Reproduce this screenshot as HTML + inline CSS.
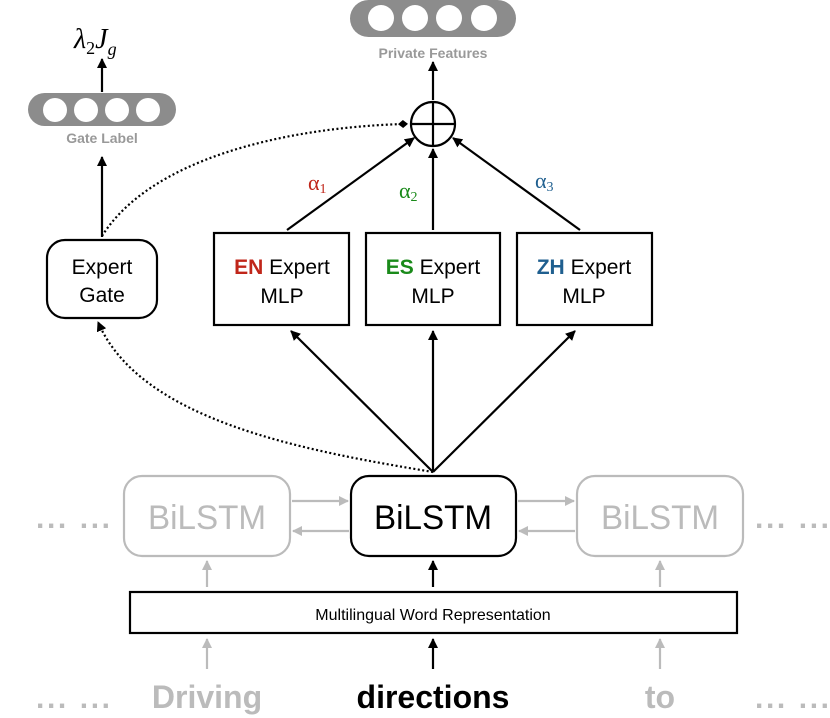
<!DOCTYPE html>
<html><head><meta charset="utf-8"><style>
html,body{margin:0;padding:0;background:#fff}
svg{display:block;font-family:"Liberation Sans",Arial,sans-serif}
</style></head><body>
<svg width="830" height="718" viewBox="0 0 830 718" xmlns="http://www.w3.org/2000/svg">
<defs>
<marker id="ab" markerWidth="10" markerHeight="10" refX="9" refY="5" orient="auto" markerUnits="userSpaceOnUse"><path d="M0,0 L10,5 L0,10 z" fill="#000"/></marker>
<marker id="ag" markerWidth="10" markerHeight="10" refX="9" refY="5" orient="auto" markerUnits="userSpaceOnUse"><path d="M0,0 L10,5 L0,10 z" fill="#bbb"/></marker>
<marker id="dm" markerWidth="10" markerHeight="10" refX="5" refY="5" orient="auto" markerUnits="userSpaceOnUse"><path d="M0,5 L5,1 L10,5 L5,9 z" fill="#000"/></marker>
</defs>
<rect x="350" y="0" width="166" height="37" rx="18.5" fill="#8c8c8c"/>
<g fill="#fff"><circle cx="381" cy="18" r="13"/><circle cx="415" cy="18" r="13"/><circle cx="449" cy="18" r="13"/><circle cx="484" cy="18" r="13"/></g>
<text x="433" y="58" font-size="14" font-weight="bold" fill="#999" text-anchor="middle">Private Features</text>
<rect x="28" y="93" width="148" height="33" rx="16.5" fill="#8c8c8c"/>
<g fill="#fff"><circle cx="55" cy="110" r="12"/><circle cx="86" cy="110" r="12"/><circle cx="117" cy="110" r="12"/><circle cx="148" cy="110" r="12"/></g>
<text x="102" y="143" font-size="14" font-weight="bold" fill="#999" text-anchor="middle">Gate Label</text>
<text x="74" y="48" font-size="28" font-family="Liberation Serif,serif" font-style="italic">λ<tspan font-size="18" font-style="normal" dy="6">2</tspan><tspan dy="-6">J</tspan><tspan font-size="18" dy="7">g</tspan></text>
<g stroke="#000" stroke-width="2.2" fill="none">
<line x1="102" y1="92" x2="102" y2="59" marker-end="url(#ab)"/>
<line x1="102" y1="237" x2="102" y2="157" marker-end="url(#ab)"/>
<line x1="433" y1="100" x2="433" y2="62" marker-end="url(#ab)"/>
<circle cx="433" cy="124" r="22"/>
<line x1="411" y1="124" x2="455" y2="124"/><line x1="433" y1="102" x2="433" y2="146"/>
<line x1="287" y1="230" x2="414" y2="138" marker-end="url(#ab)"/>
<line x1="433" y1="230" x2="433" y2="149" marker-end="url(#ab)"/>
<line x1="580" y1="230" x2="453" y2="138" marker-end="url(#ab)"/>
<line x1="433" y1="472" x2="291" y2="331" marker-end="url(#ab)"/>
<line x1="433" y1="472" x2="433" y2="331" marker-end="url(#ab)"/>
<line x1="433" y1="472" x2="575" y2="331" marker-end="url(#ab)"/>
<path d="M102,236 C150,160 280,128 403,124" stroke-dasharray="2,2.5" marker-end="url(#dm)"/>
<path d="M433,472 C300,450 140,420 98,322" stroke-dasharray="2,2.5" marker-end="url(#ab)"/>
<rect x="47" y="240" width="110" height="78" rx="18"/>
<rect x="214" y="233" width="135" height="92"/>
<rect x="366" y="233" width="134" height="92"/>
<rect x="517" y="233" width="135" height="92"/>
<rect x="351" y="476" width="165" height="80" rx="18"/>
<rect x="130" y="592" width="607" height="41"/>
<line x1="433" y1="587" x2="433" y2="561" marker-end="url(#ab)"/>
<line x1="433" y1="669" x2="433" y2="639" marker-end="url(#ab)"/>
</g>
<g stroke="#bbb" stroke-width="2.2" fill="none">
<rect x="124" y="476" width="166" height="80" rx="18"/>
<rect x="577" y="476" width="166" height="80" rx="18"/>
<line x1="292" y1="501" x2="348" y2="501" marker-end="url(#ag)"/>
<line x1="349" y1="531" x2="293" y2="531" marker-end="url(#ag)"/>
<line x1="518" y1="501" x2="574" y2="501" marker-end="url(#ag)"/>
<line x1="575" y1="531" x2="519" y2="531" marker-end="url(#ag)"/>
<line x1="207" y1="587" x2="207" y2="561" marker-end="url(#ag)"/>
<line x1="660" y1="587" x2="660" y2="561" marker-end="url(#ag)"/>
<line x1="207" y1="669" x2="207" y2="639" marker-end="url(#ag)"/>
<line x1="660" y1="669" x2="660" y2="639" marker-end="url(#ag)"/>
</g>
<text font-size="22" x="308" y="190" fill="#c0261a" font-family="Liberation Serif,serif">α<tspan font-size="14" dy="3">1</tspan></text>
<text font-size="22" x="399" y="198" fill="#1a8a1a" font-family="Liberation Serif,serif">α<tspan font-size="14" dy="3">2</tspan></text>
<text font-size="22" x="535" y="188" fill="#1f5f8f" font-family="Liberation Serif,serif">α<tspan font-size="14" dy="3">3</tspan></text>
<g font-size="21" text-anchor="middle" fill="#000">
<text x="102" y="274">Expert</text><text x="102" y="302">Gate</text>
<text x="282" y="274"><tspan fill="#c0261a" font-weight="bold">EN</tspan> Expert</text><text x="282" y="303">MLP</text>
<text x="433" y="274"><tspan fill="#1a8a1a" font-weight="bold">ES</tspan> Expert</text><text x="433" y="303">MLP</text>
<text x="584" y="274"><tspan fill="#1f5f8f" font-weight="bold">ZH</tspan> Expert</text><text x="584" y="303">MLP</text>
</g>
<text x="433" y="529" font-size="34" text-anchor="middle" textLength="118" lengthAdjust="spacingAndGlyphs">BiLSTM</text>
<text x="207" y="529" font-size="34" text-anchor="middle" fill="#bbb" textLength="118" lengthAdjust="spacingAndGlyphs">BiLSTM</text>
<text x="660" y="529" font-size="34" text-anchor="middle" fill="#bbb" textLength="118" lengthAdjust="spacingAndGlyphs">BiLSTM</text>
<text x="433" y="620" font-size="16" text-anchor="middle">Multilingual Word Representation</text>
<text x="433" y="708" font-size="32" font-weight="bold" text-anchor="middle">directions</text>
<text x="207" y="708" font-size="32" font-weight="bold" text-anchor="middle" fill="#bbb">Driving</text>
<text x="660" y="708" font-size="32" font-weight="bold" text-anchor="middle" fill="#bbb">to</text>
<g font-size="30" font-weight="bold" fill="#bbb">
<text x="36" y="528" textLength="74" lengthAdjust="spacing">... ...</text><text x="755" y="528" textLength="74" lengthAdjust="spacing">... ...</text>
<text x="36" y="708" textLength="74" lengthAdjust="spacing">... ...</text><text x="755" y="708" textLength="74" lengthAdjust="spacing">... ...</text>
</g>
</svg>
</body></html>
